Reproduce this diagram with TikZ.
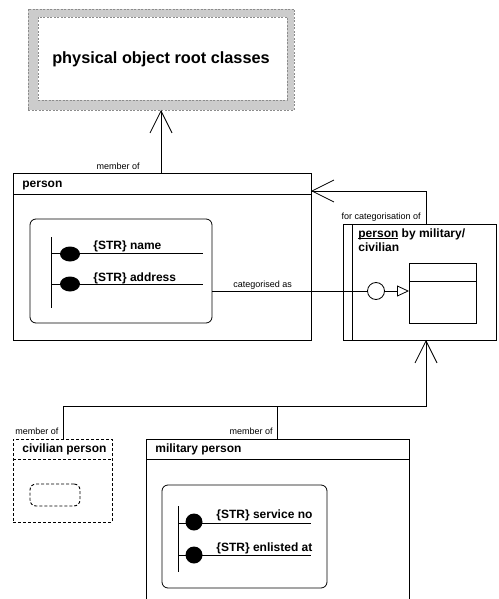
\documentclass[tikz,border=0pt]{standalone}
\usepackage{fontspec}
\setmainfont{Liberation Sans}
\usetikzlibrary{arrows.meta,calc}
\definecolor{rootfill}{HTML}{CCCCCC}
\definecolor{rootline}{HTML}{8C8C8C}
\newcommand\myul[1]{\setbox0\hbox{#1}\rlap{\rule[-1.8pt]{\wd0}{0.7pt}}\box0\relax}
\begin{document}
\begin{tikzpicture}[x=1pt,y=-1pt,line width=0.8pt,
  box/.style={draw,inner sep=0pt,outer sep=0pt,anchor=north west},
  lbl/.style={font=\fontsize{9}{11}\selectfont,inner sep=0pt},
  ttl/.style={font=\bfseries\fontsize{12}{14}\selectfont,inner sep=0pt},
  barb/.style={-{Straight Barb[length=22pt,width=22pt,line width=0.8pt]}},
  dsh/.style={dash pattern=on 3pt off 2pt}]
\useasboundingbox (0,0) rectangle (498,599);
\clip (0,0) rectangle (498,599);
% root classes
\node[box,fill=rootfill,draw=rootline,dash pattern=on 2pt off 1.5pt,line width=0.6pt,
  minimum width=266pt,minimum height=101pt] (rootout) at (28,9) {};
\node[box,fill=white,draw=rootline,dash pattern=on 2pt off 1.5pt,line width=0.6pt,
  minimum width=249pt,minimum height=83pt] (rootin) at (38,17) {};
\node[font=\bfseries\fontsize{16.3}{19}\selectfont,inner sep=0pt] (roottxt) at (161,59) {physical object root classes};
% person
\node[box,minimum width=298pt,minimum height=167pt] (person) at (13,173) {};
\draw (13,194) -- (311,194);
\node[ttl,anchor=base west] (persontxt) at (22,187) {person};
\node[box,rounded corners=6pt,minimum width=182pt,minimum height=104pt] (pin) at (30,219) {};
\draw (51,237) -- (51,308);
\draw (51,253) -- (203,253);
\draw (51,284) -- (203,284);
\fill (70,254) ellipse [x radius=10, y radius=7.5];
\fill (70,284) ellipse [x radius=10, y radius=7.5];
\node[ttl,anchor=base west] (pa1) at (93,249) {\{STR\} name};
\node[ttl,anchor=base west] (pa2) at (93,281) {\{STR\} address};
% person -> root
\coordinate (ptop) at (161,173);
\coordinate (rbot) at (161,110);
\draw[barb] (ptop) -- (rbot);
\node[lbl,anchor=base east] (m1) at (140,169) {member of};
% categorisation box
\node[box,minimum width=153pt,minimum height=116pt] (cat) at (343,224) {};
\draw (352,224) -- (352,340);
\node[ttl,anchor=base west] (cattxt1) at (358,237) {\myul{person} by military/};
\node[ttl,anchor=base west] (cattxt2) at (358,251) {civilian};
\node[box,minimum width=67pt,minimum height=60pt] (catin) at (409,263) {};
\draw (409,281) -- (476,281);
\node[circle,draw,minimum size=17pt,inner sep=0pt] (circ) at (376,291) {};
\coordinate (pinr) at (212,291);
\draw (pinr) -- (circ.west);
\draw[-{Triangle[open,length=12pt,width=11pt,line width=0.8pt]}] (circ.east) -- (catin.west |- circ.east);
\node[lbl,anchor=base west] (catas) at (233,287) {categorised as};
% for categorisation of
\coordinate (cattop) at (426,224);
\coordinate (pright) at (311,191);
\draw[barb] (cattop) |- (pright);
\node[lbl,anchor=base east] (forcat) at (421,219) {for categorisation of};
% civilian person
\node[box,dsh,minimum width=99pt,minimum height=83pt] (civ) at (13,439) {};
\draw[dsh] (13,459) -- (112,459);
\node[ttl,anchor=base west] (civtxt) at (22,452) {civilian person};
\node[box,dsh,line width=0.9pt,rounded corners=6pt,minimum width=50pt,minimum height=22pt] (civin) at (30,484) {};
% military person
\node[box,minimum width=263pt,minimum height=175pt] (mil) at (146,439) {};
\draw (146,459) -- (409,459);
\node[ttl,anchor=base west] (miltxt) at (155,452) {military person};
\node[box,rounded corners=6pt,minimum width=165pt,minimum height=103pt] (milin) at (162,485) {};
\draw (178,506) -- (178,572);
\draw (178,523) -- (311,523);
\draw (178,555) -- (311,555);
\fill (194,522) circle [radius=8.5];
\fill (194,555) circle [radius=8.5];
\node[ttl,anchor=base west] (ma1) at (216,518) {\{STR\} service no};
\node[ttl,anchor=base west] (ma2) at (216,551) {\{STR\} enlisted at};
% members -> categorisation
\coordinate (civtop) at (63,439);
\coordinate (miltop) at (277,439);
\coordinate (junc) at (426,406);
\coordinate (catbot) at (426,340);
\draw[barb] (civtop) |- (junc) -- (catbot);
\draw (miltop) -- (miltop |- junc);
\node[lbl,anchor=base west] (m2) at (15,434) {member of};
\node[lbl,anchor=base east] (m3) at (273,434) {member of};
\end{tikzpicture}
\end{document}
